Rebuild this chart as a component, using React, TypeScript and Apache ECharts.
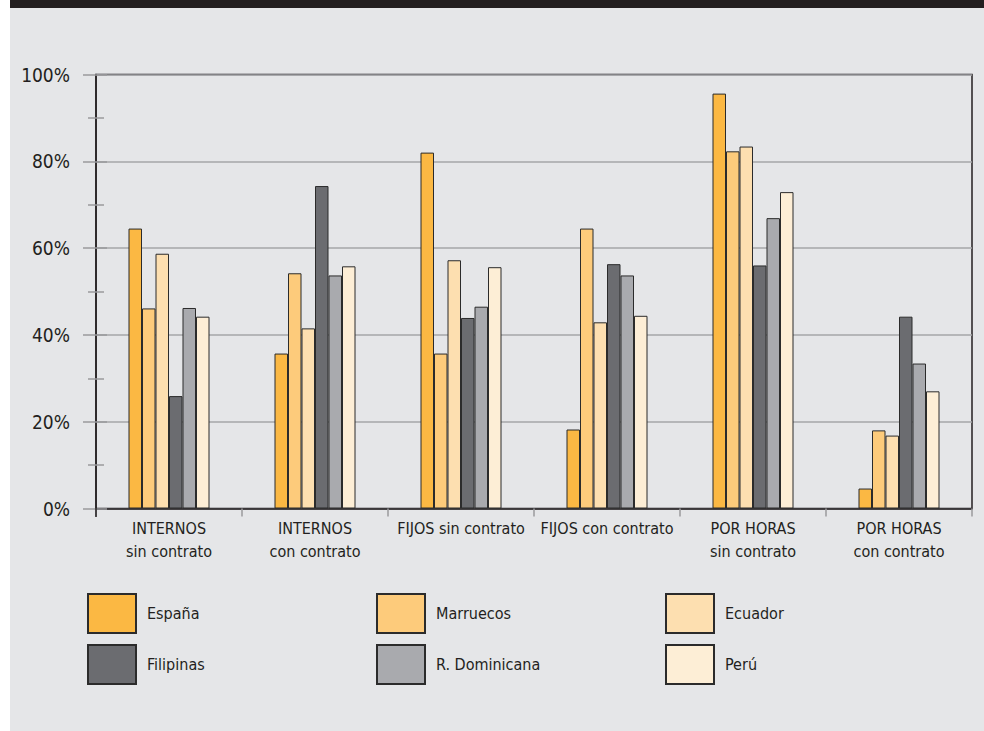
import React, { useEffect, useRef } from "react";
import * as echarts from "echarts";

const categories = [
  "INTERNOS\nsin contrato",
  "INTERNOS\ncon contrato",
  "FIJOS sin contrato",
  "FIJOS con contrato",
  "POR HORAS\nsin contrato",
  "POR HORAS\ncon contrato",
];
const seriesNames = ["España", "Marruecos", "Ecuador", "Filipinas", "R. Dominicana", "Perú"];
const espana = [64.5, 35.7, 82.0, 18.2, 95.6, 4.6];
const marruecos = [46.1, 54.2, 35.7, 64.5, 82.3, 18.0];
const ecuador = [58.7, 41.5, 57.2, 42.9, 83.4, 16.8];
const filipinas = [25.9, 74.3, 43.9, 56.3, 56.0, 44.2];
const rDominicana = [46.2, 53.7, 46.5, 53.7, 66.9, 33.4];
const peru = [44.2, 55.8, 55.6, 44.4, 72.9, 27.0];
const yMin = 0;
const yMax = 100;
const yInterval = 20;

const seriesValues = [espana, marruecos, ecuador, filipinas, rDominicana, peru];
const colors = ["#FBB843", "#FDCB7B", "#FDDFB0", "#6B6C70", "#A9AAAE", "#FDEED6"];
const legendPos = [
  { left: 87, top: 593 },
  { left: 376, top: 593 },
  { left: 665, top: 593 },
  { left: 87, top: 644 },
  { left: 376, top: 644 },
  { left: 665, top: 644 },
];

const FONT = "'DejaVu Sans Condensed', 'Liberation Sans Narrow', sans-serif";
const TEXT = "#231F20";

export default function App() {
  const ref = useRef<HTMLDivElement>(null);
  useEffect(() => {
    document.body.style.margin = "0";
    if (!ref.current) return;
    const chart = echarts.init(ref.current, undefined, { renderer: "svg" });
    chart.setOption({
      animation: false,
      backgroundColor: "#FFFFFF",
      graphic: [
        { type: "rect", z: -100, silent: true, shape: { x: 10, y: 0, width: 974, height: 731 }, style: { fill: "#E5E6E8" } },
        { type: "rect", z: -99, silent: true, shape: { x: 10, y: 0, width: 974, height: 8 }, style: { fill: "#231F20" } },
        { type: "line", z: 10, silent: true, shape: { x1: 96, y1: 508, x2: 96, y2: 517 }, style: { stroke: "#231F20", lineWidth: 1.5 } },
      ],
      grid: {
        left: 96,
        right: 12,
        top: 74.5,
        bottom: 222.5,
        show: true,
        borderColor: "#231F20",
        borderWidth: 1.5,
        backgroundColor: "transparent",
      },
      legend: seriesNames.map((name, i) => ({
        data: [name],
        left: legendPos[i].left,
        top: legendPos[i].top,
        orient: "horizontal",
        icon: "rect",
        itemWidth: 48,
        itemHeight: 39,
        selectedMode: false,
        padding: 0,
        textStyle: { fontFamily: FONT, fontSize: 16, color: TEXT, padding: [0, 0, 0, 6] },
      })),
      xAxis: {
        type: "category",
        data: categories,
        boundaryGap: true,
        axisLine: { lineStyle: { color: "#231F20", width: 1.5 } },
        axisTick: { show: true, interval: 0, length: 8, lineStyle: { color: "#9A9A9C", width: 1.5 } },
        axisLabel: {
          interval: 0,
          margin: 8,
          fontFamily: FONT,
          fontSize: 16,
          lineHeight: 23,
          color: TEXT,
        },
      },
      yAxis: [
        {
          type: "value",
          min: yMin,
          max: yMax,
          interval: yInterval,
          axisLine: { show: true, lineStyle: { color: "#231F20", width: 1.5 } },
          axisTick: { show: true, length: 13, lineStyle: { color: "#9A9A9C", width: 1.5 } },
          minorTick: { show: true, splitNumber: 2, length: 8, lineStyle: { color: "#9A9A9C", width: 1.5 } },
          splitLine: { show: true, lineStyle: { color: "#A5A6A8", width: 1.5 } },
          axisLabel: { formatter: "{value}%", margin: 26, fontFamily: FONT, fontSize: 19, color: TEXT },
        },
        {
          type: "value",
          min: yMin,
          max: yMax,
          interval: yInterval,
          position: "left",
          axisLine: { show: false },
          axisTick: { show: true, inside: true, length: 11, lineStyle: { color: "#9A9A9C", width: 1.5 } },
          minorTick: { show: true, splitNumber: 2, length: 8, lineStyle: { color: "#9A9A9C", width: 1.5 } },
          splitLine: { show: false },
          axisLabel: { show: false },
        },
      ],
      series: seriesNames.map((name, i) => ({
        name,
        type: "bar",
        yAxisIndex: 0,
        data: seriesValues[i],
        barWidth: 13.5,
        barGap: "0%",
        itemStyle: { color: colors[i], borderColor: "#2B2B2B", borderWidth: 1 },
      })),
    });
    return () => chart.dispose();
  }, []);
  return <div ref={ref} style={{ width: 984, height: 731 }} />;
}
